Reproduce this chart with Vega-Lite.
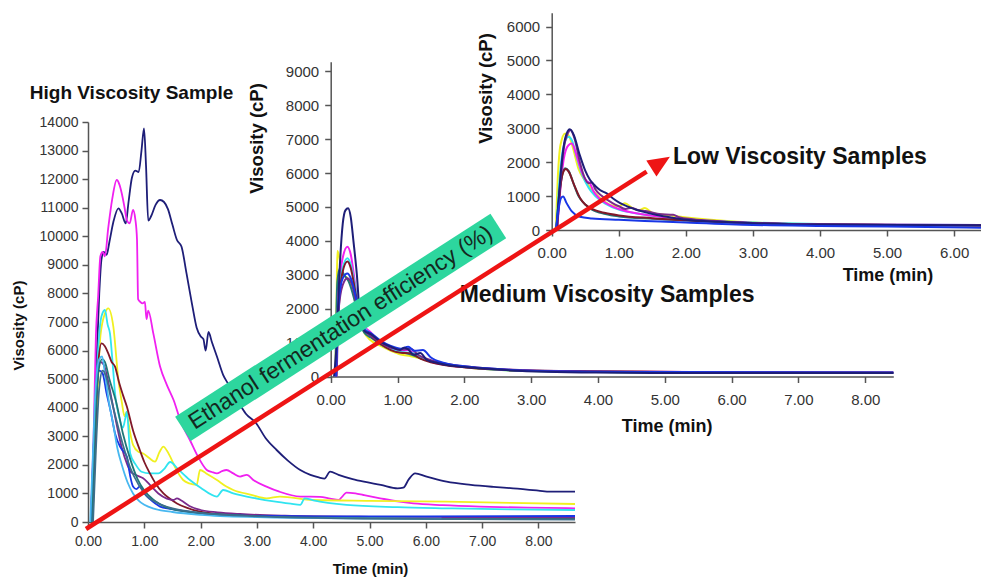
{
"$schema": "https://vega.github.io/schema/vega-lite/v6.json",
"width": 981, "height": 577, "autosize": "none", "padding": 0,
"background": "white",
"config": {"view": {"stroke": null},
 "axis": {"grid": false, "labelFont": "Liberation Sans", "titleFont": "Liberation Sans", "labelColor": "#333", "titleColor": "#111", "domainColor": "#555", "tickColor": "#555", "domainWidth": 1.5, "tickWidth": 1.5, "tickSize": 6, "titleFontWeight": "bold", "labelFlush": false, "labelOverlap": false, "titleAlign": "center", "titleBaseline": "middle"}},
"datasets": {
"high": [
{"s":"navy","t":0.05,"v":0},{"s":"navy","t":0.1,"v":2500},{"s":"navy","t":0.15,"v":5500},{"s":"navy","t":0.2,"v":8000},{"s":"navy","t":0.24,"v":9200},{"s":"navy","t":0.28,"v":9450},{"s":"navy","t":0.33,"v":9350},{"s":"navy","t":0.38,"v":9800},{"s":"navy","t":0.45,"v":10500},{"s":"navy","t":0.54,"v":10980},{"s":"navy","t":0.6,"v":10800},{"s":"navy","t":0.67,"v":10450},{"s":"navy","t":0.72,"v":11200},{"s":"navy","t":0.78,"v":12050},{"s":"navy","t":0.84,"v":12300},{"s":"navy","t":0.9,"v":12250},{"s":"navy","t":0.95,"v":13000},{"s":"navy","t":0.995,"v":13780},{"s":"navy","t":1.03,"v":12500},{"s":"navy","t":1.07,"v":10550},{"s":"navy","t":1.12,"v":10700},{"s":"navy","t":1.2,"v":11100},{"s":"navy","t":1.28,"v":11270},{"s":"navy","t":1.35,"v":11200},{"s":"navy","t":1.42,"v":10950},{"s":"navy","t":1.5,"v":10400},{"s":"navy","t":1.58,"v":9870},{"s":"navy","t":1.66,"v":9640},{"s":"navy","t":1.75,"v":8700},{"s":"navy","t":1.85,"v":7600},{"s":"navy","t":1.93,"v":6800},{"s":"navy","t":2.0,"v":6500},{"s":"navy","t":2.05,"v":6400},{"s":"navy","t":2.09,"v":6000},{"s":"navy","t":2.14,"v":6650},{"s":"navy","t":2.2,"v":6300},{"s":"navy","t":2.29,"v":5790},{"s":"navy","t":2.4,"v":5150},{"s":"navy","t":2.5,"v":4800},{"s":"navy","t":2.58,"v":4500},{"s":"navy","t":2.7,"v":4100},{"s":"navy","t":2.8,"v":3800},{"s":"navy","t":2.99,"v":3450},{"s":"navy","t":3.15,"v":2950},{"s":"navy","t":3.35,"v":2520},{"s":"navy","t":3.55,"v":2150},{"s":"navy","t":3.77,"v":1820},{"s":"navy","t":3.95,"v":1650},{"s":"navy","t":4.1,"v":1560},{"s":"navy","t":4.2,"v":1520},{"s":"navy","t":4.3,"v":1760},{"s":"navy","t":4.45,"v":1650},{"s":"navy","t":4.7,"v":1500},{"s":"navy","t":4.9,"v":1410},{"s":"navy","t":5.2,"v":1300},{"s":"navy","t":5.5,"v":1180},{"s":"navy","t":5.6,"v":1200},{"s":"navy","t":5.7,"v":1500},{"s":"navy","t":5.81,"v":1700},{"s":"navy","t":6.0,"v":1600},{"s":"navy","t":6.37,"v":1410},{"s":"navy","t":6.8,"v":1300},{"s":"navy","t":7.2,"v":1230},{"s":"navy","t":7.55,"v":1180},{"s":"navy","t":8.0,"v":1100},{"s":"navy","t":8.21,"v":1060},{"s":"navy","t":8.65,"v":1060},
{"s":"magenta","t":0.05,"v":0},{"s":"magenta","t":0.1,"v":3000},{"s":"magenta","t":0.14,"v":6500},{"s":"magenta","t":0.18,"v":7900},{"s":"magenta","t":0.22,"v":9300},{"s":"magenta","t":0.26,"v":9450},{"s":"magenta","t":0.3,"v":9300},{"s":"magenta","t":0.36,"v":10300},{"s":"magenta","t":0.43,"v":11300},{"s":"magenta","t":0.51,"v":11970},{"s":"magenta","t":0.56,"v":11800},{"s":"magenta","t":0.6,"v":11500},{"s":"magenta","t":0.65,"v":11000},{"s":"magenta","t":0.69,"v":10570},{"s":"magenta","t":0.74,"v":10450},{"s":"magenta","t":0.8,"v":10920},{"s":"magenta","t":0.84,"v":10600},{"s":"magenta","t":0.87,"v":9900},{"s":"magenta","t":0.89,"v":7800},{"s":"magenta","t":0.93,"v":7700},{"s":"magenta","t":0.97,"v":7650},{"s":"magenta","t":1.01,"v":7700},{"s":"magenta","t":1.04,"v":7100},{"s":"magenta","t":1.07,"v":7400},{"s":"magenta","t":1.16,"v":6600},{"s":"magenta","t":1.28,"v":5440},{"s":"magenta","t":1.4,"v":4800},{"s":"magenta","t":1.52,"v":4270},{"s":"magenta","t":1.65,"v":3500},{"s":"magenta","t":1.81,"v":2870},{"s":"magenta","t":1.95,"v":2300},{"s":"magenta","t":2.11,"v":1820},{"s":"magenta","t":2.2,"v":1750},{"s":"magenta","t":2.29,"v":1700},{"s":"magenta","t":2.38,"v":1780},{"s":"magenta","t":2.46,"v":1820},{"s":"magenta","t":2.58,"v":1700},{"s":"magenta","t":2.7,"v":1590},{"s":"magenta","t":2.82,"v":1650},{"s":"magenta","t":2.95,"v":1450},{"s":"magenta","t":3.17,"v":1240},{"s":"magenta","t":3.4,"v":1060},{"s":"magenta","t":3.77,"v":890},{"s":"magenta","t":4.12,"v":880},{"s":"magenta","t":4.3,"v":820},{"s":"magenta","t":4.45,"v":770},{"s":"magenta","t":4.52,"v":900},{"s":"magenta","t":4.59,"v":1030},{"s":"magenta","t":4.75,"v":1000},{"s":"magenta","t":4.89,"v":945},{"s":"magenta","t":5.19,"v":830},{"s":"magenta","t":5.5,"v":720},{"s":"magenta","t":5.78,"v":650},{"s":"magenta","t":6.3,"v":590},{"s":"magenta","t":6.96,"v":540},{"s":"magenta","t":7.8,"v":500},{"s":"magenta","t":8.65,"v":480},
{"s":"yellow","t":0.08,"v":0},{"s":"yellow","t":0.15,"v":3500},{"s":"yellow","t":0.22,"v":6500},{"s":"yellow","t":0.3,"v":7300},{"s":"yellow","t":0.36,"v":7480},{"s":"yellow","t":0.45,"v":6840},{"s":"yellow","t":0.54,"v":4970},{"s":"yellow","t":0.6,"v":4200},{"s":"yellow","t":0.65,"v":3700},{"s":"yellow","t":0.69,"v":3860},{"s":"yellow","t":0.72,"v":3460},{"s":"yellow","t":0.8,"v":2700},{"s":"yellow","t":0.9,"v":2450},{"s":"yellow","t":0.98,"v":2400},{"s":"yellow","t":1.08,"v":2250},{"s":"yellow","t":1.19,"v":2110},{"s":"yellow","t":1.27,"v":2450},{"s":"yellow","t":1.34,"v":2640},{"s":"yellow","t":1.4,"v":2500},{"s":"yellow","t":1.46,"v":2290},{"s":"yellow","t":1.55,"v":1900},{"s":"yellow","t":1.69,"v":1470},{"s":"yellow","t":1.8,"v":1350},{"s":"yellow","t":1.93,"v":1300},{"s":"yellow","t":1.99,"v":1820},{"s":"yellow","t":2.1,"v":1700},{"s":"yellow","t":2.29,"v":1470},{"s":"yellow","t":2.45,"v":1250},{"s":"yellow","t":2.58,"v":1120},{"s":"yellow","t":2.9,"v":950},{"s":"yellow","t":3.17,"v":830},{"s":"yellow","t":3.41,"v":890},{"s":"yellow","t":4.0,"v":770},{"s":"yellow","t":5.0,"v":740},{"s":"yellow","t":6.37,"v":710},{"s":"yellow","t":7.5,"v":670},{"s":"yellow","t":8.65,"v":630},
{"s":"cyan","t":0.07,"v":0},{"s":"cyan","t":0.12,"v":3000},{"s":"cyan","t":0.18,"v":6000},{"s":"cyan","t":0.24,"v":7200},{"s":"cyan","t":0.3,"v":7420},{"s":"cyan","t":0.35,"v":6900},{"s":"cyan","t":0.39,"v":6600},{"s":"cyan","t":0.44,"v":5500},{"s":"cyan","t":0.48,"v":4500},{"s":"cyan","t":0.55,"v":3700},{"s":"cyan","t":0.62,"v":3300},{"s":"cyan","t":0.66,"v":3600},{"s":"cyan","t":0.69,"v":3860},{"s":"cyan","t":0.75,"v":2400},{"s":"cyan","t":0.85,"v":2000},{"s":"cyan","t":0.95,"v":1760},{"s":"cyan","t":1.1,"v":1700},{"s":"cyan","t":1.25,"v":1700},{"s":"cyan","t":1.35,"v":1850},{"s":"cyan","t":1.46,"v":2100},{"s":"cyan","t":1.6,"v":1850},{"s":"cyan","t":1.81,"v":1470},{"s":"cyan","t":2.0,"v":1200},{"s":"cyan","t":2.29,"v":890},{"s":"cyan","t":2.4,"v":1120},{"s":"cyan","t":2.58,"v":1000},{"s":"cyan","t":3.0,"v":820},{"s":"cyan","t":3.3,"v":720},{"s":"cyan","t":3.6,"v":640},{"s":"cyan","t":3.77,"v":600},{"s":"cyan","t":3.85,"v":830},{"s":"cyan","t":4.0,"v":760},{"s":"cyan","t":4.59,"v":600},{"s":"cyan","t":5.5,"v":520},{"s":"cyan","t":6.37,"v":480},{"s":"cyan","t":7.5,"v":440},{"s":"cyan","t":8.65,"v":420},
{"s":"maroon","t":0.08,"v":0},{"s":"maroon","t":0.13,"v":3000},{"s":"maroon","t":0.18,"v":5500},{"s":"maroon","t":0.24,"v":6250},{"s":"maroon","t":0.3,"v":6150},{"s":"maroon","t":0.36,"v":5900},{"s":"maroon","t":0.42,"v":5600},{"s":"maroon","t":0.48,"v":5440},{"s":"maroon","t":0.55,"v":4900},{"s":"maroon","t":0.62,"v":4450},{"s":"maroon","t":0.69,"v":4040},{"s":"maroon","t":0.8,"v":3200},{"s":"maroon","t":0.92,"v":2520},{"s":"maroon","t":1.0,"v":2100},{"s":"maroon","t":1.1,"v":1700},{"s":"maroon","t":1.2,"v":1350},{"s":"maroon","t":1.34,"v":1000},{"s":"maroon","t":1.45,"v":820},{"s":"maroon","t":1.58,"v":650},{"s":"maroon","t":1.75,"v":500},{"s":"maroon","t":1.99,"v":360},{"s":"maroon","t":2.3,"v":280},{"s":"maroon","t":2.58,"v":245},{"s":"maroon","t":3.0,"v":200},{"s":"maroon","t":4.0,"v":170},{"s":"maroon","t":6.0,"v":150},{"s":"maroon","t":8.65,"v":140},
{"s":"purple","t":0.06,"v":0},{"s":"purple","t":0.1,"v":2500},{"s":"purple","t":0.15,"v":4800},{"s":"purple","t":0.22,"v":5600},{"s":"purple","t":0.28,"v":5500},{"s":"purple","t":0.35,"v":5000},{"s":"purple","t":0.42,"v":4300},{"s":"purple","t":0.5,"v":3500},{"s":"purple","t":0.6,"v":2600},{"s":"purple","t":0.7,"v":2000},{"s":"purple","t":0.76,"v":1750},{"s":"purple","t":0.8,"v":1700},{"s":"purple","t":0.88,"v":1620},{"s":"purple","t":0.98,"v":1530},{"s":"purple","t":1.1,"v":1300},{"s":"purple","t":1.25,"v":1000},{"s":"purple","t":1.4,"v":820},{"s":"purple","t":1.52,"v":770},{"s":"purple","t":1.58,"v":830},{"s":"purple","t":1.65,"v":760},{"s":"purple","t":1.8,"v":560},{"s":"purple","t":2.0,"v":420},{"s":"purple","t":2.3,"v":340},{"s":"purple","t":2.7,"v":280},{"s":"purple","t":3.5,"v":220},{"s":"purple","t":5.0,"v":180},{"s":"purple","t":8.65,"v":150},
{"s":"blue","t":0.05,"v":0},{"s":"blue","t":0.1,"v":2600},{"s":"blue","t":0.15,"v":4500},{"s":"blue","t":0.2,"v":5300},{"s":"blue","t":0.26,"v":5200},{"s":"blue","t":0.33,"v":4500},{"s":"blue","t":0.4,"v":3900},{"s":"blue","t":0.48,"v":3100},{"s":"blue","t":0.58,"v":2600},{"s":"blue","t":0.69,"v":2290},{"s":"blue","t":0.75,"v":1600},{"s":"blue","t":0.8,"v":1240},{"s":"blue","t":0.86,"v":1150},{"s":"blue","t":0.92,"v":1250},{"s":"blue","t":1.0,"v":1000},{"s":"blue","t":1.1,"v":800},{"s":"blue","t":1.28,"v":540},{"s":"blue","t":1.45,"v":460},{"s":"blue","t":1.58,"v":420},{"s":"blue","t":2.0,"v":300},{"s":"blue","t":2.5,"v":240},{"s":"blue","t":3.0,"v":210},{"s":"blue","t":4.0,"v":200},{"s":"blue","t":6.0,"v":200},{"s":"blue","t":8.65,"v":210},
{"s":"teal","t":0.07,"v":0},{"s":"teal","t":0.12,"v":3000},{"s":"teal","t":0.18,"v":5200},{"s":"teal","t":0.25,"v":5700},{"s":"teal","t":0.3,"v":5600},{"s":"teal","t":0.38,"v":5000},{"s":"teal","t":0.5,"v":4200},{"s":"teal","t":0.62,"v":3100},{"s":"teal","t":0.75,"v":2200},{"s":"teal","t":0.88,"v":1500},{"s":"teal","t":1.0,"v":1100},{"s":"teal","t":1.15,"v":800},{"s":"teal","t":1.3,"v":600},{"s":"teal","t":1.5,"v":450},{"s":"teal","t":1.8,"v":350},{"s":"teal","t":2.2,"v":280},{"s":"teal","t":3.0,"v":200},{"s":"teal","t":4.5,"v":140},{"s":"teal","t":6.0,"v":110},{"s":"teal","t":8.65,"v":100},
{"s":"lightblue","t":0.04,"v":0},{"s":"lightblue","t":0.08,"v":2000},{"s":"lightblue","t":0.13,"v":4500},{"s":"lightblue","t":0.2,"v":5700},{"s":"lightblue","t":0.25,"v":5800},{"s":"lightblue","t":0.3,"v":5200},{"s":"lightblue","t":0.38,"v":4100},{"s":"lightblue","t":0.45,"v":3400},{"s":"lightblue","t":0.52,"v":2600},{"s":"lightblue","t":0.6,"v":2000},{"s":"lightblue","t":0.7,"v":1400},{"s":"lightblue","t":0.8,"v":1000},{"s":"lightblue","t":0.9,"v":750},{"s":"lightblue","t":1.0,"v":600},{"s":"lightblue","t":1.2,"v":450},{"s":"lightblue","t":1.5,"v":350},{"s":"lightblue","t":2.0,"v":250},{"s":"lightblue","t":3.0,"v":170},{"s":"lightblue","t":4.5,"v":130},{"s":"lightblue","t":6.28,"v":120},
{"s":"slate","t":0.09,"v":0},{"s":"slate","t":0.14,"v":2500},{"s":"slate","t":0.2,"v":4700},{"s":"slate","t":0.26,"v":5300},{"s":"slate","t":0.32,"v":5100},{"s":"slate","t":0.4,"v":4400},{"s":"slate","t":0.5,"v":3600},{"s":"slate","t":0.62,"v":2700},{"s":"slate","t":0.75,"v":1900},{"s":"slate","t":0.9,"v":1300},{"s":"slate","t":1.05,"v":900},{"s":"slate","t":1.25,"v":650},{"s":"slate","t":1.5,"v":480},{"s":"slate","t":2.0,"v":320},{"s":"slate","t":3.0,"v":200},{"s":"slate","t":5.0,"v":120},{"s":"slate","t":8.65,"v":80}
],
"medium": [
{"s":"yellow","t":0.07,"v":0},{"s":"yellow","t":0.09,"v":2500},{"s":"yellow","t":0.1,"v":3700},{"s":"yellow","t":0.13,"v":3500},{"s":"yellow","t":0.18,"v":3000},{"s":"yellow","t":0.25,"v":2900},{"s":"yellow","t":0.32,"v":2600},{"s":"yellow","t":0.4,"v":1900},{"s":"yellow","t":0.5,"v":1300},{"s":"yellow","t":0.58,"v":1100},{"s":"yellow","t":0.75,"v":900},{"s":"yellow","t":0.9,"v":760},{"s":"yellow","t":1.05,"v":650},{"s":"yellow","t":1.2,"v":600},{"s":"yellow","t":1.4,"v":500},{"s":"yellow","t":1.6,"v":400},{"s":"yellow","t":2.0,"v":270},{"s":"yellow","t":3.0,"v":160},{"s":"yellow","t":5.0,"v":120},{"s":"yellow","t":8.42,"v":105},
{"s":"teal","t":0.07,"v":0},{"s":"teal","t":0.1,"v":2800},{"s":"teal","t":0.14,"v":3200},{"s":"teal","t":0.2,"v":3000},{"s":"teal","t":0.27,"v":2800},{"s":"teal","t":0.35,"v":2300},{"s":"teal","t":0.43,"v":1600},{"s":"teal","t":0.5,"v":1300},{"s":"teal","t":0.6,"v":1150},{"s":"teal","t":0.75,"v":950},{"s":"teal","t":0.9,"v":800},{"s":"teal","t":1.05,"v":720},{"s":"teal","t":1.2,"v":650},{"s":"teal","t":1.4,"v":500},{"s":"teal","t":1.7,"v":380},{"s":"teal","t":2.0,"v":290},{"s":"teal","t":3.0,"v":170},{"s":"teal","t":5.0,"v":120},{"s":"teal","t":8.42,"v":110},
{"s":"magenta","t":0.07,"v":0},{"s":"magenta","t":0.12,"v":2500},{"s":"magenta","t":0.18,"v":3500},{"s":"magenta","t":0.25,"v":3830},{"s":"magenta","t":0.3,"v":3600},{"s":"magenta","t":0.36,"v":2800},{"s":"magenta","t":0.42,"v":1900},{"s":"magenta","t":0.5,"v":1500},{"s":"magenta","t":0.6,"v":1300},{"s":"magenta","t":0.75,"v":1000},{"s":"magenta","t":0.9,"v":820},{"s":"magenta","t":1.05,"v":750},{"s":"magenta","t":1.15,"v":780},{"s":"magenta","t":1.3,"v":600},{"s":"magenta","t":1.5,"v":430},{"s":"magenta","t":1.8,"v":320},{"s":"magenta","t":2.2,"v":250},{"s":"magenta","t":3.0,"v":170},{"s":"magenta","t":4.0,"v":140},{"s":"magenta","t":4.7,"v":140},{"s":"magenta","t":6.0,"v":120},{"s":"magenta","t":8.42,"v":110},
{"s":"cyan","t":0.07,"v":0},{"s":"cyan","t":0.12,"v":2300},{"s":"cyan","t":0.18,"v":3200},{"s":"cyan","t":0.25,"v":3490},{"s":"cyan","t":0.3,"v":3300},{"s":"cyan","t":0.36,"v":2700},{"s":"cyan","t":0.43,"v":1800},{"s":"cyan","t":0.5,"v":1450},{"s":"cyan","t":0.6,"v":1250},{"s":"cyan","t":0.75,"v":950},{"s":"cyan","t":0.9,"v":800},{"s":"cyan","t":1.05,"v":720},{"s":"cyan","t":1.2,"v":700},{"s":"cyan","t":1.35,"v":560},{"s":"cyan","t":1.5,"v":450},{"s":"cyan","t":2.0,"v":280},{"s":"cyan","t":3.0,"v":160},{"s":"cyan","t":5.0,"v":120},{"s":"cyan","t":8.42,"v":105},
{"s":"maroon","t":0.08,"v":0},{"s":"maroon","t":0.12,"v":2000},{"s":"maroon","t":0.18,"v":3100},{"s":"maroon","t":0.25,"v":3390},{"s":"maroon","t":0.3,"v":3200},{"s":"maroon","t":0.36,"v":2600},{"s":"maroon","t":0.43,"v":1800},{"s":"maroon","t":0.5,"v":1400},{"s":"maroon","t":0.6,"v":1200},{"s":"maroon","t":0.75,"v":950},{"s":"maroon","t":0.9,"v":780},{"s":"maroon","t":1.05,"v":700},{"s":"maroon","t":1.2,"v":680},{"s":"maroon","t":1.35,"v":520},{"s":"maroon","t":1.5,"v":420},{"s":"maroon","t":2.0,"v":270},{"s":"maroon","t":3.0,"v":170},{"s":"maroon","t":3.6,"v":160},{"s":"maroon","t":4.6,"v":150},{"s":"maroon","t":6.0,"v":120},{"s":"maroon","t":8.42,"v":110},
{"s":"purple","t":0.09,"v":0},{"s":"purple","t":0.12,"v":2000},{"s":"purple","t":0.18,"v":2700},{"s":"purple","t":0.25,"v":2900},{"s":"purple","t":0.32,"v":2700},{"s":"purple","t":0.4,"v":2000},{"s":"purple","t":0.5,"v":1400},{"s":"purple","t":0.6,"v":1200},{"s":"purple","t":0.75,"v":1000},{"s":"purple","t":0.9,"v":850},{"s":"purple","t":1.1,"v":800},{"s":"purple","t":1.2,"v":820},{"s":"purple","t":1.3,"v":650},{"s":"purple","t":1.5,"v":480},{"s":"purple","t":2.0,"v":300},{"s":"purple","t":3.0,"v":180},{"s":"purple","t":5.0,"v":130},{"s":"purple","t":8.42,"v":115},
{"s":"blue","t":0.08,"v":0},{"s":"blue","t":0.12,"v":2200},{"s":"blue","t":0.18,"v":2900},{"s":"blue","t":0.25,"v":3040},{"s":"blue","t":0.3,"v":2900},{"s":"blue","t":0.37,"v":2400},{"s":"blue","t":0.44,"v":1700},{"s":"blue","t":0.5,"v":1400},{"s":"blue","t":0.6,"v":1280},{"s":"blue","t":0.75,"v":1050},{"s":"blue","t":0.9,"v":900},{"s":"blue","t":1.05,"v":820},{"s":"blue","t":1.16,"v":880},{"s":"blue","t":1.25,"v":760},{"s":"blue","t":1.38,"v":780},{"s":"blue","t":1.5,"v":560},{"s":"blue","t":1.7,"v":400},{"s":"blue","t":2.0,"v":300},{"s":"blue","t":2.5,"v":220},{"s":"blue","t":3.0,"v":170},{"s":"blue","t":4.0,"v":140},{"s":"blue","t":5.0,"v":130},{"s":"blue","t":8.42,"v":120},
{"s":"navy","t":0.05,"v":0},{"s":"navy","t":0.09,"v":1000},{"s":"navy","t":0.13,"v":3000},{"s":"navy","t":0.18,"v":4500},{"s":"navy","t":0.22,"v":4900},{"s":"navy","t":0.26,"v":4960},{"s":"navy","t":0.3,"v":4700},{"s":"navy","t":0.34,"v":4000},{"s":"navy","t":0.39,"v":3040},{"s":"navy","t":0.44,"v":1760},{"s":"navy","t":0.5,"v":1350},{"s":"navy","t":0.54,"v":1300},{"s":"navy","t":0.6,"v":1250},{"s":"navy","t":0.74,"v":1030},{"s":"navy","t":0.9,"v":880},{"s":"navy","t":1.04,"v":780},{"s":"navy","t":1.1,"v":850},{"s":"navy","t":1.16,"v":800},{"s":"navy","t":1.24,"v":640},{"s":"navy","t":1.34,"v":690},{"s":"navy","t":1.44,"v":490},{"s":"navy","t":1.6,"v":400},{"s":"navy","t":1.74,"v":340},{"s":"navy","t":2.0,"v":280},{"s":"navy","t":2.24,"v":240},{"s":"navy","t":2.7,"v":180},{"s":"navy","t":3.23,"v":140},{"s":"navy","t":3.98,"v":115},{"s":"navy","t":5.0,"v":105},{"s":"navy","t":6.5,"v":100},{"s":"navy","t":8.42,"v":100}
],
"low": [
{"s":"yellow","t":0.06,"v":0},{"s":"yellow","t":0.09,"v":1500},{"s":"yellow","t":0.13,"v":2500},{"s":"yellow","t":0.2,"v":2850},{"s":"yellow","t":0.25,"v":2800},{"s":"yellow","t":0.32,"v":2400},{"s":"yellow","t":0.4,"v":1800},{"s":"yellow","t":0.5,"v":1450},{"s":"yellow","t":0.6,"v":1200},{"s":"yellow","t":0.75,"v":900},{"s":"yellow","t":0.9,"v":720},{"s":"yellow","t":1.0,"v":700},{"s":"yellow","t":1.09,"v":790},{"s":"yellow","t":1.2,"v":650},{"s":"yellow","t":1.3,"v":580},{"s":"yellow","t":1.39,"v":650},{"s":"yellow","t":1.5,"v":500},{"s":"yellow","t":1.8,"v":420},{"s":"yellow","t":2.2,"v":330},{"s":"yellow","t":3.0,"v":220},{"s":"yellow","t":4.0,"v":170},{"s":"yellow","t":6.4,"v":140},
{"s":"cyan","t":0.07,"v":0},{"s":"cyan","t":0.11,"v":1300},{"s":"cyan","t":0.17,"v":2400},{"s":"cyan","t":0.25,"v":2750},{"s":"cyan","t":0.3,"v":2650},{"s":"cyan","t":0.38,"v":2100},{"s":"cyan","t":0.46,"v":1600},{"s":"cyan","t":0.55,"v":1250},{"s":"cyan","t":0.65,"v":1000},{"s":"cyan","t":0.8,"v":780},{"s":"cyan","t":1.0,"v":600},{"s":"cyan","t":1.3,"v":480},{"s":"cyan","t":1.6,"v":400},{"s":"cyan","t":2.0,"v":320},{"s":"cyan","t":3.0,"v":220},{"s":"cyan","t":4.0,"v":180},{"s":"cyan","t":5.0,"v":160},{"s":"cyan","t":6.4,"v":150},
{"s":"magenta","t":0.08,"v":0},{"s":"magenta","t":0.12,"v":1000},{"s":"magenta","t":0.18,"v":2100},{"s":"magenta","t":0.25,"v":2500},{"s":"magenta","t":0.3,"v":2550},{"s":"magenta","t":0.37,"v":2200},{"s":"magenta","t":0.45,"v":1700},{"s":"magenta","t":0.52,"v":1450},{"s":"magenta","t":0.57,"v":1380},{"s":"magenta","t":0.62,"v":1150},{"s":"magenta","t":0.7,"v":950},{"s":"magenta","t":0.85,"v":750},{"s":"magenta","t":1.0,"v":620},{"s":"magenta","t":1.3,"v":480},{"s":"magenta","t":1.6,"v":400},{"s":"magenta","t":2.0,"v":320},{"s":"magenta","t":3.0,"v":210},{"s":"magenta","t":4.0,"v":170},{"s":"magenta","t":6.4,"v":150},
{"s":"teal","t":0.07,"v":0},{"s":"teal","t":0.11,"v":1000},{"s":"teal","t":0.16,"v":1650},{"s":"teal","t":0.2,"v":1820},{"s":"teal","t":0.25,"v":1750},{"s":"teal","t":0.32,"v":1400},{"s":"teal","t":0.4,"v":1000},{"s":"teal","t":0.5,"v":750},{"s":"teal","t":0.6,"v":600},{"s":"teal","t":0.8,"v":470},{"s":"teal","t":1.0,"v":400},{"s":"teal","t":1.5,"v":330},{"s":"teal","t":2.0,"v":280},{"s":"teal","t":3.0,"v":200},{"s":"teal","t":4.0,"v":160},{"s":"teal","t":6.4,"v":130},
{"s":"maroon","t":0.08,"v":0},{"s":"maroon","t":0.12,"v":1100},{"s":"maroon","t":0.17,"v":1700},{"s":"maroon","t":0.21,"v":1800},{"s":"maroon","t":0.26,"v":1700},{"s":"maroon","t":0.33,"v":1350},{"s":"maroon","t":0.42,"v":950},{"s":"maroon","t":0.5,"v":750},{"s":"maroon","t":0.6,"v":620},{"s":"maroon","t":0.8,"v":500},{"s":"maroon","t":1.0,"v":430},{"s":"maroon","t":1.5,"v":350},{"s":"maroon","t":2.0,"v":290},{"s":"maroon","t":3.0,"v":200},{"s":"maroon","t":4.0,"v":160},{"s":"maroon","t":6.4,"v":130},
{"s":"purple","t":0.08,"v":0},{"s":"purple","t":0.12,"v":1200},{"s":"purple","t":0.18,"v":2400},{"s":"purple","t":0.24,"v":2850},{"s":"purple","t":0.28,"v":2950},{"s":"purple","t":0.34,"v":2700},{"s":"purple","t":0.42,"v":2000},{"s":"purple","t":0.5,"v":1500},{"s":"purple","t":0.55,"v":1380},{"s":"purple","t":0.6,"v":1400},{"s":"purple","t":0.65,"v":1200},{"s":"purple","t":0.75,"v":1000},{"s":"purple","t":0.9,"v":800},{"s":"purple","t":1.0,"v":700},{"s":"purple","t":1.1,"v":620},{"s":"purple","t":1.19,"v":660},{"s":"purple","t":1.3,"v":580},{"s":"purple","t":1.4,"v":560},{"s":"purple","t":1.6,"v":470},{"s":"purple","t":1.81,"v":450},{"s":"purple","t":1.9,"v":380},{"s":"purple","t":2.1,"v":320},{"s":"purple","t":2.5,"v":260},{"s":"purple","t":3.0,"v":210},{"s":"purple","t":4.0,"v":170},{"s":"purple","t":5.0,"v":150},{"s":"purple","t":6.4,"v":140},
{"s":"navy","t":0.07,"v":0},{"s":"navy","t":0.1,"v":800},{"s":"navy","t":0.15,"v":2000},{"s":"navy","t":0.2,"v":2700},{"s":"navy","t":0.27,"v":2970},{"s":"navy","t":0.33,"v":2800},{"s":"navy","t":0.42,"v":2200},{"s":"navy","t":0.5,"v":1750},{"s":"navy","t":0.57,"v":1480},{"s":"navy","t":0.65,"v":1300},{"s":"navy","t":0.72,"v":1180},{"s":"navy","t":0.82,"v":1080},{"s":"navy","t":0.92,"v":920},{"s":"navy","t":1.02,"v":790},{"s":"navy","t":1.15,"v":680},{"s":"navy","t":1.27,"v":590},{"s":"navy","t":1.4,"v":520},{"s":"navy","t":1.57,"v":440},{"s":"navy","t":1.8,"v":360},{"s":"navy","t":2.01,"v":300},{"s":"navy","t":2.5,"v":240},{"s":"navy","t":3.0,"v":200},{"s":"navy","t":4.0,"v":160},{"s":"navy","t":5.0,"v":150},{"s":"navy","t":6.4,"v":140},
{"s":"blue","t":0.06,"v":0},{"s":"blue","t":0.1,"v":600},{"s":"blue","t":0.14,"v":950},{"s":"blue","t":0.17,"v":990},{"s":"blue","t":0.22,"v":800},{"s":"blue","t":0.3,"v":550},{"s":"blue","t":0.42,"v":390},{"s":"blue","t":0.6,"v":340},{"s":"blue","t":1.0,"v":300},{"s":"blue","t":1.5,"v":260},{"s":"blue","t":2.0,"v":220},{"s":"blue","t":3.0,"v":150},{"s":"blue","t":4.0,"v":120},{"s":"blue","t":5.0,"v":100},{"s":"blue","t":6.4,"v":70}
]
},
"layer": [
{"data": {"name": "high"}, "mark": {"type": "line", "strokeWidth": 1.8, "interpolate": "monotone"},
 "encoding": {
  "x": {"field": "t", "type": "quantitative", "scale": {"domain": [0, 8.65], "range": [88, 575], "nice": false, "zero": false},
   "axis": {"orient": "bottom", "offset": -55, "values": [0,1,2,3,4,5,6,7,8], "format": ".2f", "labelFontSize": 14, "labelPadding": 6, "title": "Time (min)", "titleFontSize": 15, "titleX": 370, "titleY": 46}},
  "y": {"field": "v", "type": "quantitative", "scale": {"domain": [0, 14000], "range": [522, 122], "nice": false, "zero": false},
   "axis": {"orient": "left", "offset": -88, "values": [0,1000,2000,3000,4000,5000,6000,7000,8000,9000,10000,11000,12000,13000,14000], "format": "d", "labelFontSize": 14, "labelPadding": 4, "title": "Visosity (cP)", "titleFontSize": 15, "titleX": -70, "titleY": 325, "titleAngle": -90}},
  "color": {"field": "s", "type": "nominal", "legend": null, "scale": {"domain": ["navy","magenta","yellow","cyan","maroon","purple","blue","teal","lightblue","slate"], "range": ["#1e1e78","#f020f0","#f0f020","#30e4f0","#801828","#7a2a8c","#1836e6","#207878","#48b8f0","#3c6e8c"]}}
 }},
{"data": {"name": "medium"}, "mark": {"type": "line", "strokeWidth": 2, "interpolate": "monotone"},
 "encoding": {
  "x": {"field": "t", "type": "quantitative", "scale": {"domain": [0, 8.42], "range": [330.7, 893.3], "nice": false, "zero": false},
   "axis": {"orient": "bottom", "offset": -200.5, "values": [0,1,2,3,4,5,6,7,8], "format": ".2f", "labelFontSize": 15, "labelPadding": 10, "title": "Time (min)", "titleFontSize": 18, "titleX": 666.7, "titleY": 50}},
  "y": {"field": "v", "type": "quantitative", "scale": {"domain": [0, 9286], "range": [376.5, 61.7], "nice": false, "zero": false},
   "axis": {"orient": "left", "offset": -330.7, "values": [0,1000,2000,3000,4000,5000,6000,7000,8000,9000], "format": "d", "labelFontSize": 15, "labelPadding": 6, "title": "Visosity (cP)", "titleFontSize": 18.5, "titleX": -74, "titleY": 138, "titleAngle": -90}},
  "color": {"field": "s", "type": "nominal", "legend": null, "scale": {"domain": ["navy","magenta","yellow","cyan","maroon","purple","blue","teal"], "range": ["#1e1e78","#f020f0","#f0f020","#30e4f0","#801828","#7a2a8c","#1836e6","#207878"]}}
 }},
{"data": {"name": "low"}, "mark": {"type": "line", "strokeWidth": 2, "interpolate": "monotone"},
 "encoding": {
  "x": {"field": "t", "type": "quantitative", "scale": {"domain": [0, 6.4], "range": [551.7, 981], "nice": false, "zero": false},
   "axis": {"orient": "bottom", "offset": -347, "values": [0,1,2,3,4,5,6], "format": ".2f", "labelFontSize": 15, "labelPadding": 9, "title": "Time (min)", "titleFontSize": 18, "titleX": 887.5, "titleY": 45}},
  "y": {"field": "v", "type": "quantitative", "scale": {"domain": [0, 6410], "range": [230, 12.7], "nice": false, "zero": false},
   "axis": {"orient": "left", "offset": -551.7, "values": [0,1000,2000,3000,4000,5000,6000], "format": "d", "labelFontSize": 15, "labelPadding": 6, "title": "Visosity (cP)", "titleFontSize": 18.5, "titleX": -66.7, "titleY": 88, "titleAngle": -90}},
  "color": {"field": "s", "type": "nominal", "legend": null, "scale": {"domain": ["navy","magenta","yellow","cyan","maroon","purple","blue","teal"], "range": ["#1e1e78","#f020f0","#f0f020","#30e4f0","#801828","#7a2a8c","#1836e6","#207878"]}}
 }},
{"data": {"values": [{"t": 0.773, "v": 15025, "label": "High Viscosity Sample"}]},
 "mark": {"type": "text", "font": "Liberation Sans", "fontWeight": "bold", "fontSize": 19, "color": "#111", "align": "center", "baseline": "middle"},
 "encoding": {"x": {"field": "t", "type": "quantitative", "scale": {"domain": [0, 8.65], "range": [88, 575], "nice": false, "zero": false}, "axis": null},
  "y": {"field": "v", "type": "quantitative", "scale": {"domain": [0, 14000], "range": [522, 122], "nice": false, "zero": false}, "axis": null},
  "text": {"field": "label"}}},
{"data": {"values": [{"t": 4.136, "v": 2404, "label": "Medium Viscosity Samples"}]},
 "mark": {"type": "text", "font": "Liberation Sans", "fontWeight": "bold", "fontSize": 23, "color": "#111", "align": "center", "baseline": "middle"},
 "encoding": {"x": {"field": "t", "type": "quantitative", "scale": {"domain": [0, 8.42], "range": [330.7, 893.3], "nice": false, "zero": false}, "axis": null},
  "y": {"field": "v", "type": "quantitative", "scale": {"domain": [0, 9286], "range": [376.5, 61.7], "nice": false, "zero": false}, "axis": null},
  "text": {"field": "label"}}},
{"data": {"values": [{"t": 3.70, "v": 2162, "label": "Low Viscosity Samples"}]},
 "mark": {"type": "text", "font": "Liberation Sans", "fontWeight": "bold", "fontSize": 23, "color": "#111", "align": "center", "baseline": "middle"},
 "encoding": {"x": {"field": "t", "type": "quantitative", "scale": {"domain": [0, 6.4], "range": [551.7, 981], "nice": false, "zero": false}, "axis": null},
  "y": {"field": "v", "type": "quantitative", "scale": {"domain": [0, 6410], "range": [230, 12.7], "nice": false, "zero": false}, "axis": null},
  "text": {"field": "label"}}},
{"data": {"values": [{"e0": 16.6, "f0": 26.9, "e1": 70.6, "f1": 81.4}]},
 "mark": {"type": "rule", "strokeWidth": 29, "color": "#2dd69e", "strokeCap": "butt"},
 "encoding": {"x": {"field": "e0", "type": "quantitative", "scale": {"domain": [0, 100], "range": [86, 670], "nice": false, "zero": false}, "axis": null},
  "y": {"field": "f0", "type": "quantitative", "scale": {"domain": [0, 100], "range": [529, 156.7], "nice": false, "zero": false}, "axis": null},
  "x2": {"field": "e1"}, "y2": {"field": "f1"}}},
{"data": {"values": [{"e": 43.6, "f": 54.1, "label": "Ethanol fermentation efficiency (%)"}]},
 "mark": {"type": "text", "font": "Liberation Sans", "fontSize": 23, "color": "#14281e", "align": "center", "baseline": "middle", "angle": -32.8},
 "encoding": {"x": {"field": "e", "type": "quantitative", "scale": {"domain": [0, 100], "range": [86, 670], "nice": false, "zero": false}, "axis": null},
  "y": {"field": "f", "type": "quantitative", "scale": {"domain": [0, 100], "range": [529, 156.7], "nice": false, "zero": false}, "axis": null},
  "text": {"field": "label"}}},
{"data": {"values": [{"e0": 0, "f0": 0, "e1": 96, "f1": 96}]},
 "mark": {"type": "rule", "strokeWidth": 4.5, "color": "#ee1414", "strokeCap": "butt"},
 "encoding": {"x": {"field": "e0", "type": "quantitative", "scale": {"domain": [0, 100], "range": [86, 670], "nice": false, "zero": false}, "axis": null},
  "y": {"field": "f0", "type": "quantitative", "scale": {"domain": [0, 100], "range": [529, 156.7], "nice": false, "zero": false}, "axis": null},
  "x2": {"field": "e1"}, "y2": {"field": "f1"}}},
{"data": {"values": [{"e": 98.4, "f": 98.4}]},
 "mark": {"type": "point", "shape": "M0,-1L-0.86,1L0.86,1Z", "size": 484, "filled": true, "opacity": 1, "color": "#ee1414", "angle": 57.5},
 "encoding": {"x": {"field": "e", "type": "quantitative", "scale": {"domain": [0, 100], "range": [86, 670], "nice": false, "zero": false}, "axis": null},
  "y": {"field": "f", "type": "quantitative", "scale": {"domain": [0, 100], "range": [529, 156.7], "nice": false, "zero": false}, "axis": null}}}
],
"resolve": {"scale": {"x": "independent", "y": "independent", "color": "independent"}, "axis": {"x": "independent", "y": "independent"}}
}
